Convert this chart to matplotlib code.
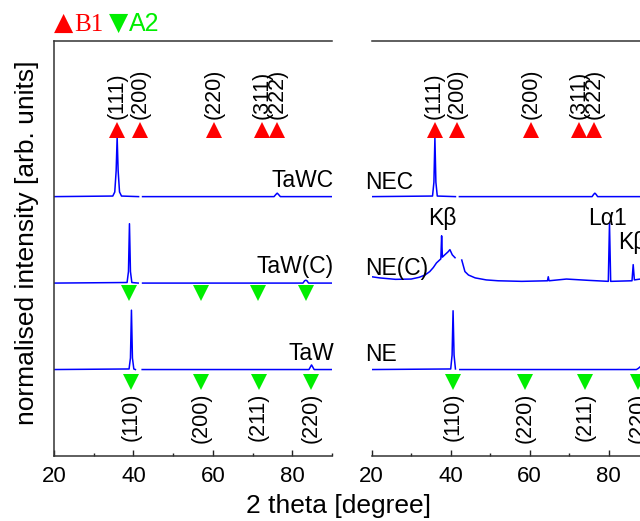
import matplotlib.pyplot as plt
import numpy as np

plt.rcParams['font.family'] = ['Liberation Sans', 'DejaVu Sans']

nan = np.nan

# left panel scans: 2 theta and relative intensity (nan = gap in the scan)
tawc_x = [20, 34.8, 35.3, 35.65, 35.9, 36.15, 36.5, 37.0, 41.3, nan, 42.3, 75.4, 75.9, 76.2, 76.5, 77.0, 90]
tawc_y = [0, 0.01, 0.08, 0.45, 1.03, 0.45, 0.08, 0.01, 0, nan, 0, 0, 0.04, 0.06, 0.04, 0, 0]
tawc2_x = [20, 38.4, 38.75, 39.0, 39.25, 39.6, 41.2, nan, 42.3, 82.7, 83.1, 83.4, 83.7, 84.1, 90]
tawc2_y = [0, 0.01, 0.2, 1.03, 0.2, 0.01, 0, nan, 0, 0, 0.04, 0.05, 0.04, 0, 0]
taw_x = [20, 38.9, 39.25, 39.5, 39.75, 40.1, 40.5, nan, 42.2, 84.2, 84.6, 84.85, 85.1, 85.5, 90]
taw_y = [0, 0.01, 0.2, 1.03, 0.2, 0.01, 0, nan, 0, 0, 0.05, 0.08, 0.05, 0, 0]

# right panel scans
nec_x = [20, 35.4, 35.75, 36.0, 36.25, 36.6, 41.2, nan, 42.2, 75.8, 76.2, 76.5, 76.8, 77.2, 90]
nec_y = [0, 0.01, 0.25, 1.02, 0.25, 0.01, 0, nan, 0, 0, 0.04, 0.06, 0.04, 0, 0]
nec2_x = [20, 22, 26, 30, 32, 33.5, 34.7, 35.6, 36.4, 37.5, 37.7, 37.9, 38.5, 39.3, 39.8, 40.4, 41.1, nan,
          42.8, 43.2, 43.6, 44.5, 46.2, 49, 52, 58, 64.5, 64.7, 64.9, 69.3, 75, 79.9, 80.2, 80.5,
          85.9, 86.2, 86.5, 88, 90]
nec2_y = [0.11, 0.09, 0.065, 0.07, 0.1, 0.14, 0.2, 0.27, 0.35, 0.42, 0.82, 0.45, 0.49, 0.54, 0.58, 0.49, 0.44, nan,
          0.4, 0.3, 0.2, 0.14, 0.09, 0.055, 0.04, 0.03, 0.04, 0.11, 0.04, 0.07, 0.047, 0.03, 1.04, 0.03,
          0.04, 0.32, 0.055, 0.07, 0.07]
ne_x = [20, 40.0, 40.35, 40.6, 40.85, 41.2, nan, 42.3, 87.0, 87.5, 88.0, 90]
ne_y = [0, 0.01, 0.25, 1.02, 0.25, 0.01, nan, 0, 0, 0.02, 0.05, 0.05]

offsets = [4.5, 3.0, 1.5]
left_names = ['TaWC', 'TaW(C)', 'TaW']
right_names = ['NEC', 'NE(C)', 'NE']

# reference reflections
b1_pos = [35.9, 41.7, 60.4, 72.4, 76.2]
b1_left = ['(111)', '(200)', '(220)', '(311)', '(222)']
b1_right = ['(111)', '(200)', '(200)', '(311)', '(222)']
a2_row1 = [39.0, 57.0, 71.4, 83.5]
a2_row2 = [39.4, 57.0, 71.5, 84.8]
a2_left_labels = ['(110)', '(200)', '(211)', '(220)']
a2_right = [40.5, 58.8, 74.0, 87.4]
a2_right_labels = ['(110)', '(220)', '(211)', '(220)']

blue = '#0000ff'
red = '#ff0000'
green = '#00ee00'

fig = plt.figure(figsize=(6.4, 5.21), dpi=100)
ax1 = fig.add_axes([54 / 640, 65 / 521, 278 / 640, 415 / 521])
ax2 = fig.add_axes([371.7 / 640, 65 / 521, 276.5 / 640, 415 / 521])

left_data = [(tawc_x, tawc_y), (tawc2_x, tawc2_y), (taw_x, taw_y)]
right_data = [(nec_x, nec_y), (nec2_x, nec2_y), (ne_x, ne_y)]

for (x, y), off, name in zip(left_data, offsets, left_names):
    ax1.plot(x, np.array(y) + off, color=blue, lw=1.1)
    ax1.text(90.5, off + 0.17, name, ha='right', va='baseline', fontsize=16.5, clip_on=False)

for (x, y), off, name in zip(right_data, offsets, right_names):
    ax2.plot(x, np.array(y) + off, color=blue, lw=1.1)
    ax2.text(18.3, off + 0.14, name, ha='left', va='baseline', fontsize=16.5, clip_on=False)

ax2.text(38.0, 4.0, 'K\u03b2', ha='center', va='baseline', fontsize=16.5)
ax2.text(79.8, 4.0, 'L\u03b11', ha='center', va='baseline', fontsize=16.5)
ax2.text(82.4, 3.6, 'K\u03b2', ha='left', va='baseline', fontsize=16.5)

# B1 markers and labels
for ax, labels in [(ax1, b1_left), (ax2, b1_right)]:
    ax.plot(b1_pos, [5.66] * len(b1_pos), '^', color=red, ms=12, mew=0)
    for xp, lab in zip(b1_pos, labels):
        ax.text(xp, 5.84, lab, rotation=90, ha='center', va='bottom', fontsize=15.5)

# A2 markers and labels
ax1.plot(a2_row1, [2.83] * len(a2_row1), 'v', color=green, ms=12, mew=0)
ax1.plot(a2_row2, [1.28] * len(a2_row2), 'v', color=green, ms=12, mew=0)
for xp, lab in zip(a2_row2, a2_left_labels):
    ax1.text(xp, 1.1, lab, rotation=90, ha='center', va='top', fontsize=15.5)
ax2.plot(a2_right, [1.28] * len(a2_right), 'v', color=green, ms=12, mew=0)
for xp, lab in zip(a2_right, a2_right_labels):
    ax2.text(xp, 1.1, lab, rotation=90, ha='center', va='top', fontsize=15.5)

for ax in (ax1, ax2):
    ax.set_xlim(20, 90)
    ax.set_ylim(0, 7.2)
    ax.set_xticks([20, 40, 60, 80])
    ax.set_xticks([30, 50, 70, 90], minor=True)
    ax.set_yticks([])
    ax.tick_params(axis='x', which='major', direction='in', length=4, width=1, pad=7,
                   labelsize=16, color='#222222')
    ax.tick_params(axis='x', which='minor', direction='in', length=2.5, width=1, color='#222222')
    ax.spines['right'].set_visible(False)
    for s in ('top', 'bottom', 'left'):
        ax.spines[s].set_color('#333333')
        ax.spines[s].set_linewidth(1.1)
ax2.spines['left'].set_visible(False)

fig.text(27 / 640, 1 - 243 / 521, 'normalised intensity [arb. units]', rotation=90,
         ha='center', va='center', fontsize=19)
fig.text(338 / 640, 1 - 513 / 521, '2 theta [degree]', ha='center', va='baseline', fontsize=19)

# header key
fig.text(54 / 640, 1 - 30 / 521, '\u25b2', color=red, fontsize=18, va='baseline',
         family='DejaVu Sans')
fig.text(74 / 640, 1 - 31 / 521, 'B1', color=red, fontsize=18, va='baseline',
         family='Liberation Serif')
fig.text(109 / 640, 1 - 30 / 521, '\u25bc', color=green, fontsize=18, va='baseline',
         family='DejaVu Sans')
fig.text(129 / 640, 1 - 31 / 521, 'A2', color=green, fontsize=18, va='baseline')

fig.savefig('out.png', dpi=100)
